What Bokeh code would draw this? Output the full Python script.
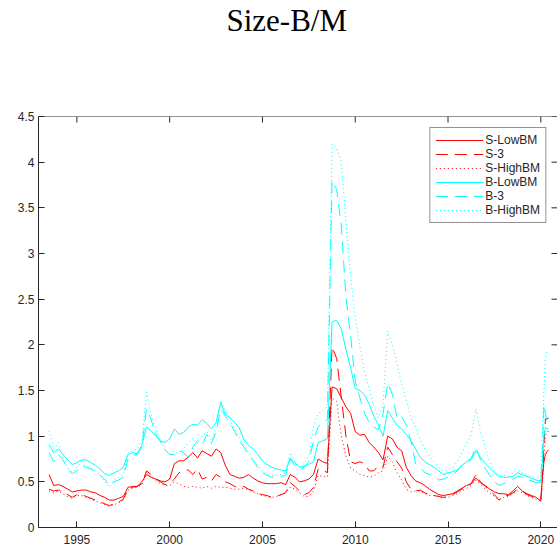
from bokeh.plotting import figure
from bokeh.models import (Range1d, FixedTicker, CustomJSTickFormatter, Span, LinearAxis,
                          CustomLabelingPolicy, Legend, LegendItem, ColumnDataSource)
from bokeh.embed import file_html
from bokeh.resources import INLINE

# ---- data ----
title_text = "Size-B/M"
dates = [1993.5 + 0.25 * i for i in range(106)] + [2020.0, 2020.08, 2020.17, 2020.25, 2020.33, 2020.42]

s_low = [0.58, 0.46,
         0.47, 0.45, 0.42, 0.39,
         0.40, 0.41, 0.41, 0.39,
         0.38, 0.35, 0.33, 0.30,
         0.30, 0.32, 0.34, 0.44,
         0.45, 0.45, 0.50, 0.58,
         0.55, 0.53, 0.51, 0.50,
         0.53, 0.70, 0.73, 0.73,
         0.77, 0.82, 0.76, 0.84,
         0.81, 0.78, 0.86, 0.82,
         0.68, 0.58, 0.56, 0.54,
         0.55, 0.58, 0.54, 0.51,
         0.49, 0.48, 0.48, 0.48,
         0.49, 0.47, 0.58, 0.55,
         0.50, 0.51, 0.53, 0.58,
         0.75, 0.72, 0.70, 1.54,
         1.52, 1.42, 1.32, 1.25,
         1.05, 1.01, 1.02, 0.93,
         0.88, 0.82, 0.74, 1.00,
         0.97, 0.88, 0.84, 0.66,
         0.57, 0.51, 0.49, 0.46,
         0.42, 0.39, 0.36, 0.35,
         0.36, 0.37, 0.40, 0.43,
         0.46, 0.48, 0.54, 0.49,
         0.46, 0.42, 0.39, 0.37,
         0.37, 0.36, 0.40, 0.45,
         0.40, 0.37, 0.35, 0.33,
         0.29, 0.55, 0.72, 0.80, 0.83, 0.85]

s_mid = [0.42, 0.40,
         0.41, 0.39, 0.36, 0.33,
         0.36, 0.36, 0.34, 0.32,
         0.30, 0.28, 0.26, 0.24,
         0.26, 0.28, 0.31, 0.42,
         0.44, 0.45, 0.48, 0.62,
         0.58, 0.53, 0.50, 0.47,
         0.48, 0.53, 0.60, 0.62,
         0.63, 0.58, 0.64, 0.53,
         0.55, 0.51, 0.58, 0.55,
         0.50, 0.48, 0.45, 0.43,
         0.45, 0.42, 0.40, 0.37,
         0.36, 0.35, 0.33, 0.34,
         0.36, 0.38, 0.49, 0.45,
         0.40, 0.36, 0.38, 0.44,
         0.64, 0.63, 0.60, 1.98,
         1.85, 1.42, 1.00, 0.72,
         0.70, 0.72, 0.70, 0.62,
         0.62, 0.68, 0.66, 0.88,
         0.80, 0.72, 0.65, 0.50,
         0.42, 0.40, 0.41, 0.38,
         0.36, 0.35, 0.34, 0.33,
         0.34, 0.36, 0.39, 0.42,
         0.45, 0.48, 0.58, 0.50,
         0.45, 0.40, 0.36, 0.30,
         0.35, 0.35, 0.38, 0.42,
         0.40, 0.36, 0.34, 0.32,
         0.31, 0.50, 0.90, 1.19, 1.19, 1.20]

s_high = [0.40, 0.38,
          0.40, 0.37, 0.34, 0.32,
          0.35, 0.35, 0.33, 0.31,
          0.29, 0.27, 0.25, 0.23,
          0.25, 0.27, 0.30, 0.41,
          0.43, 0.44, 0.47, 0.60,
          0.56, 0.51, 0.48, 0.46,
          0.46, 0.50, 0.48, 0.45,
          0.44, 0.45, 0.44, 0.43,
          0.45, 0.43, 0.45, 0.44,
          0.44, 0.43, 0.42, 0.42,
          0.43, 0.41, 0.39, 0.37,
          0.35, 0.34, 0.33, 0.34,
          0.36, 0.38, 0.44, 0.42,
          0.38, 0.34, 0.34, 0.40,
          0.57, 0.56, 0.55, 1.42,
          1.38, 1.00, 0.78, 0.65,
          0.62, 0.58, 0.57, 0.55,
          0.56, 0.60, 0.62, 0.78,
          0.72, 0.60, 0.52, 0.42,
          0.39, 0.40, 0.40, 0.37,
          0.35, 0.35, 0.34, 0.32,
          0.33, 0.35, 0.37, 0.40,
          0.43, 0.46, 0.52, 0.47,
          0.42, 0.38, 0.34, 0.30,
          0.33, 0.34, 0.37, 0.40,
          0.38, 0.35, 0.33, 0.31,
          0.29, 0.45, 0.80, 1.00, 1.05, 1.05]

b_low = [0.91, 0.82,
         0.86, 0.80, 0.74, 0.69,
         0.71, 0.74, 0.74, 0.71,
         0.68, 0.64, 0.59, 0.57,
         0.60, 0.62, 0.66, 0.80,
         0.82, 0.81, 0.90, 1.10,
         1.06, 1.00, 0.95, 0.93,
         0.97, 1.08, 1.02, 1.04,
         1.10, 1.13, 1.12, 1.18,
         1.14, 1.08, 1.15, 1.37,
         1.24, 1.20, 1.15, 1.09,
         0.96, 0.90, 0.86, 0.80,
         0.73, 0.69, 0.66, 0.64,
         0.63, 0.62, 0.76, 0.71,
         0.66, 0.67, 0.69, 0.72,
         0.93, 0.95, 0.97, 2.25,
         2.27, 2.17, 1.95, 1.75,
         1.52, 1.50, 1.45, 1.35,
         1.22, 1.12, 1.00, 1.28,
         1.20, 1.12, 1.08, 1.02,
         0.95, 0.86, 0.77, 0.72,
         0.69, 0.66, 0.62, 0.58,
         0.60, 0.61, 0.63, 0.68,
         0.72, 0.74, 0.84, 0.77,
         0.70, 0.65, 0.60, 0.56,
         0.55, 0.55, 0.56, 0.60,
         0.58, 0.56, 0.54, 0.52,
         0.51, 0.70, 1.00, 1.10, 1.08, 1.08]

b_mid = [0.82, 0.72,
         0.80, 0.74, 0.64, 0.59,
         0.62, 0.68, 0.66, 0.64,
         0.61, 0.57, 0.53, 0.46,
         0.50, 0.52, 0.55, 0.75,
         0.79, 0.80, 0.88, 1.30,
         1.18, 1.02, 0.94, 0.85,
         0.80, 0.80, 0.84, 0.82,
         0.77, 0.88, 0.95, 0.90,
         1.02, 0.92, 1.05, 1.30,
         1.22, 1.15, 1.05, 0.95,
         0.88, 0.80, 0.73, 0.66,
         0.60, 0.57, 0.55, 0.55,
         0.56, 0.57, 0.75, 0.68,
         0.63, 0.66, 0.72, 0.95,
         1.10, 1.15, 1.18, 3.80,
         3.70, 3.30, 2.52, 2.10,
         1.60, 1.42, 1.25, 1.15,
         1.10, 1.07, 1.25, 1.58,
         1.46, 1.20, 1.22, 1.12,
         0.95, 0.70, 0.66, 0.60,
         0.58, 0.57, 0.52, 0.53,
         0.55, 0.58, 0.62, 0.68,
         0.72, 0.76, 0.88, 0.74,
         0.65, 0.57, 0.50, 0.46,
         0.48, 0.50, 0.53, 0.56,
         0.55, 0.53, 0.51, 0.49,
         0.49, 0.80, 1.35, 1.25, 1.15, 1.12]

b_high = [1.06, 0.85,
          0.93, 0.78, 0.66, 0.60,
          0.66, 0.72, 0.68, 0.65,
          0.62, 0.58, 0.50, 0.44,
          0.52, 0.55, 0.58, 0.82,
          0.84, 0.86, 0.95, 1.48,
          1.25, 1.08, 0.96, 0.85,
          0.80, 0.84, 0.80, 0.86,
          0.93, 0.98, 0.92, 1.00,
          1.05, 0.95, 1.10, 1.39,
          1.28, 1.18, 1.08, 0.98,
          0.90, 0.82, 0.75, 0.68,
          0.62, 0.59, 0.57, 0.57,
          0.58, 0.60, 0.82, 0.72,
          0.66, 0.70, 0.78, 1.10,
          1.25, 1.28, 1.32, 4.20,
          4.15, 4.00, 3.35, 2.75,
          2.30, 1.98, 1.70, 1.52,
          1.33, 1.20, 1.35, 2.15,
          2.00, 1.80, 1.57, 1.40,
          1.20, 1.10, 0.96, 0.86,
          0.78, 0.72, 0.66, 0.62,
          0.63, 0.66, 0.72, 0.82,
          0.92, 1.02, 1.30, 1.05,
          0.88, 0.72, 0.62, 0.58,
          0.57, 0.57, 0.60, 0.63,
          0.60, 0.58, 0.56, 0.55,
          0.55, 1.00, 1.50, 1.85, 1.92, 1.90]

series_names = ["S-LowBM", "S-3", "S-HighBM", "B-LowBM", "B-3", "B-HighBM"]
series_values = [s_low, s_mid, s_high, b_low, b_mid, b_high]
series_colors = ["#FF0000", "#FF0000", "#FF0000", "#00FFFF", "#00FFFF", "#00FFFF"]
series_dashes = ["solid", "12 7", "1 3", "solid", "12 7", "1 3"]

x_ticks = [1995, 2000, 2005, 2010, 2015, 2020]
y_ticks = [0, 0.5, 1, 1.5, 2, 2.5, 3, 3.5, 4, 4.5]

for v in series_values:
    assert len(v) == len(dates), len(v)

# ---- figure ----
AX = "#262626"
W, H = 557, 551
BL, BR, BT, BB = 38, 0, 116, 24
X0, X1 = 1992.93, 2020.9
Y0, Y1 = 0.0, 4.5
TICK = 6  # px, inward ticks

p = figure(width=W, height=H, output_backend="svg", toolbar_location=None, tools="",
           x_range=Range1d(X0, X1), y_range=Range1d(Y0, Y1),
           min_border_left=BL, min_border_right=BR, min_border_top=BT, min_border_bottom=BB)
p.grid.visible = False
p.outline_line_color = None
p.background_fill_color = "white"
p.border_fill_color = "white"

frame_w = W - BL - BR
frame_h = H - BT - BB

x_axis = p.below[0]
y_axis = p.left[0]

# blank spacer panel between the frame and the title: one white tick at the far
# left edge, no labels drawn
spacer = LinearAxis(ticker=FixedTicker(ticks=[X0 + 0.07]),
                    formatter=CustomJSTickFormatter(code="return ''"),
                    major_label_policy=CustomLabelingPolicy(
                        code="for (const i of indices) indices.unset(i)"),
                    axis_line_color=None,
                    major_tick_in=0, major_tick_out=79, major_tick_line_color="white",
                    minor_tick_in=0, minor_tick_out=0, minor_tick_line_color=None,
                    major_label_standoff=0)
p.add_layout(spacer, "above")

p.title.text = title_text
p.title.text_font = "Liberation Serif"
p.title.text_font_size = "31px"
p.title.text_font_style = "normal"
p.title.text_color = "black"
p.title.align = "left"
p.title.offset = 188
p.title.standoff = 0

fmt = CustomJSTickFormatter(code="return String(tick)")
for ax, ticks, standoff in ((x_axis, x_ticks, 7), (y_axis, y_ticks, 4)):
    ax.ticker = FixedTicker(ticks=ticks)
    ax.formatter = fmt
    ax.major_tick_in = TICK
    ax.major_tick_out = 0
    ax.minor_tick_in = 0
    ax.minor_tick_out = 0
    ax.major_tick_line_color = AX
    ax.axis_line_color = AX
    ax.major_label_standoff = standoff
    ax.major_label_text_font = "Liberation Sans"
    ax.major_label_text_font_size = "12px"
    ax.major_label_text_color = AX

# box: top edge line and inward ticks on the top and right sides
dy = TICK * (Y1 - Y0) / frame_h
dx = TICK * (X1 - X0) / frame_w
p.add_layout(Span(location=Y1, dimension="width", line_color=AX, line_width=1))
p.segment(x0=x_ticks, y0=[Y1] * len(x_ticks), x1=x_ticks, y1=[Y1 - dy] * len(x_ticks),
          line_color=AX, line_width=1)
p.segment(x0=[X1] * len(y_ticks), y0=y_ticks, x1=[X1 - dx] * len(y_ticks), y1=y_ticks,
          line_color=AX, line_width=1)

src = ColumnDataSource(dict(x=dates, **{f"v{i}": v for i, v in enumerate(series_values)}))
items = []
for i, (name, col, dash) in enumerate(zip(series_names, series_colors, series_dashes)):
    r = p.line("x", f"v{i}", source=src, line_color=col, line_width=1, line_dash=dash)
    items.append(LegendItem(label=name, renderers=[r]))

legend = Legend(items=items, location="top_right", margin=11,
                glyph_width=48, glyph_height=14, label_height=14, spacing=0,
                padding=5, label_standoff=2,
                label_text_font="Liberation Sans", label_text_font_size="12px",
                label_text_color=AX, border_line_color=AX, border_line_width=1,
                background_fill_color="white", background_fill_alpha=1.0)
p.add_layout(legend)

open("out.html", "w").write(file_html(p, INLINE))
